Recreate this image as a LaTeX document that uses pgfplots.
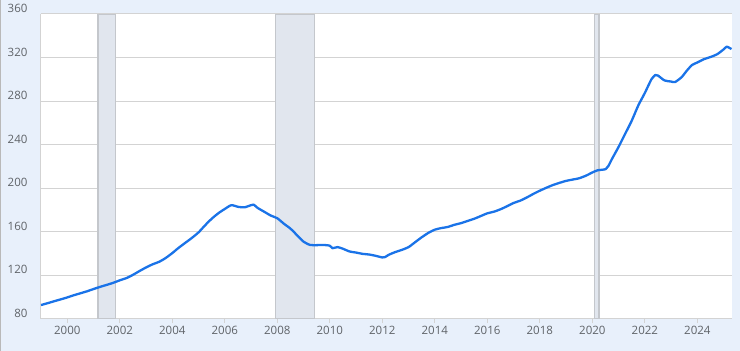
\documentclass[border=0pt]{standalone}
\usepackage{pgfplots}
\pgfplotsset{compat=1.18}
\usepackage{fontspec}
\setmainfont{Open Sans}
\definecolor{bgc}{HTML}{E8F0FB}
\definecolor{rec}{HTML}{E1E6EE}
\definecolor{recl}{HTML}{C4C7CC}
\definecolor{gridc}{HTML}{D3D3D3}
\definecolor{linec}{HTML}{1A73E8}
\definecolor{labc}{HTML}{5F6368}
\begin{document}
\begin{tikzpicture}
\useasboundingbox (-41pt,-32pt) rectangle (699pt,319pt);
\fill[bgc] (-41pt,-32pt) rectangle (699pt,319pt);
\draw[gray!55, line width=1.2pt] (-40.4pt,-32pt) -- (-40.4pt,319pt);
\begin{axis}[
  at={(0pt,0pt)}, anchor=south west,
  scale only axis, width=691pt, height=305pt,
  xmin=1999, xmax=2025.32, ymin=80, ymax=360,
  axis background/.style={fill=white},
  axis x line=bottom, axis y line=left,
  axis line style={draw=gridc, line width=1pt, -},
  xtick={2000,2002,...,2024},
  ytick={80,120,...,360},
  xticklabel style={/pgf/number format/1000 sep={}, font=\fontsize{11.5}{13}\selectfont, text=labc},
  yticklabel style={anchor=base east, yshift=1.5pt, xshift=-6pt, font=\fontsize{11.5}{13}\selectfont, text=labc},
  /pgf/number format/assume math mode=true,
  ymajorgrids, grid style={draw=gridc, line width=1pt},
  tick align=outside, major tick length=4pt,
  xtick style={draw=gridc, line width=0.8pt},
  ytick style={draw=none},
  clip=true,
]
\addplot[fill=rec, draw=recl, line width=1.3pt] coordinates {(2001.17,80) (2001.17,360) (2001.83,360) (2001.83,80)} -- cycle;
\addplot[fill=rec, draw=recl, line width=1.3pt] coordinates {(2007.92,80) (2007.92,360) (2009.42,360) (2009.42,80)} -- cycle;
\addplot[fill=rec, draw=recl, line width=1.3pt] coordinates {(2020.08,80) (2020.08,360) (2020.25,360) (2020.25,80)} -- cycle;
\addplot[draw=gridc, line width=1pt] coordinates {(1999,360) (2025.32,360)};
\addplot[linec, line width=2.3pt, line join=round, smooth, tension=0.4] coordinates {
(1999.0,92.8) (1999.25,94.5) (1999.5,96.3) (1999.75,98.0) (2000.0,99.8)
(2000.25,101.8) (2000.5,103.6) (2000.75,105.4) (2001.0,107.5) (2001.25,109.5)
(2001.5,111.3) (2001.75,113.2) (2002.0,115.5) (2002.25,117.5) (2002.5,120.5)
(2002.75,124.0) (2003.0,127.3) (2003.25,130.2) (2003.5,132.5) (2003.75,136.0)
(2004.0,140.5) (2004.25,145.5) (2004.5,150.0) (2004.75,154.5) (2005.0,159.5)
(2005.25,166.0) (2005.5,172.0) (2005.75,177.0) (2006.0,181.0) (2006.25,184.5)
(2006.5,183.0) (2006.75,182.5) (2007.0,184.5) (2007.1,185.0) (2007.25,182.0)
(2007.5,178.5) (2007.75,175.0) (2008.0,172.5) (2008.25,167.5) (2008.5,163)
(2008.75,157) (2009.0,151) (2009.25,148) (2009.5,147.8) (2009.75,148)
(2010.0,147.3) (2010.1,145) (2010.3,146) (2010.5,144.5) (2010.75,142)
(2011.0,141) (2011.25,139.8) (2011.5,139.2) (2011.75,138) (2012.0,136.5)
(2012.1,136.8) (2012.25,139) (2012.5,141.5) (2012.75,143.5) (2013.0,146)
(2013.25,150.5) (2013.5,155) (2013.75,159) (2014.0,162) (2014.25,163.5)
(2014.5,164.5) (2014.75,166.5) (2015.0,168) (2015.25,170) (2015.5,172)
(2015.75,174.5) (2016.0,177) (2016.25,178.5) (2016.5,180.7) (2016.75,183.5)
(2017.0,186.5) (2017.25,188.6) (2017.5,191.5) (2017.75,194.8) (2018.0,197.8)
(2018.25,200.5) (2018.5,203) (2018.75,205) (2019.0,206.8) (2019.25,208)
(2019.5,209.2) (2019.75,211.5) (2020.0,214.5) (2020.2,216.5) (2020.5,217.5)
(2020.6,220) (2020.75,227) (2021.0,238) (2021.25,250) (2021.5,262)
(2021.75,276) (2022.0,287.5) (2022.25,300) (2022.4,304) (2022.5,303.5)
(2022.75,299) (2023.0,298) (2023.15,297.5) (2023.4,302) (2023.6,308)
(2023.8,313.2) (2024.0,315.5) (2024.25,318.5) (2024.5,320.5) (2024.75,323)
(2025.0,327.5) (2025.12,330) (2025.3,327.8)
};
\end{axis}
\end{tikzpicture}
\end{document}
